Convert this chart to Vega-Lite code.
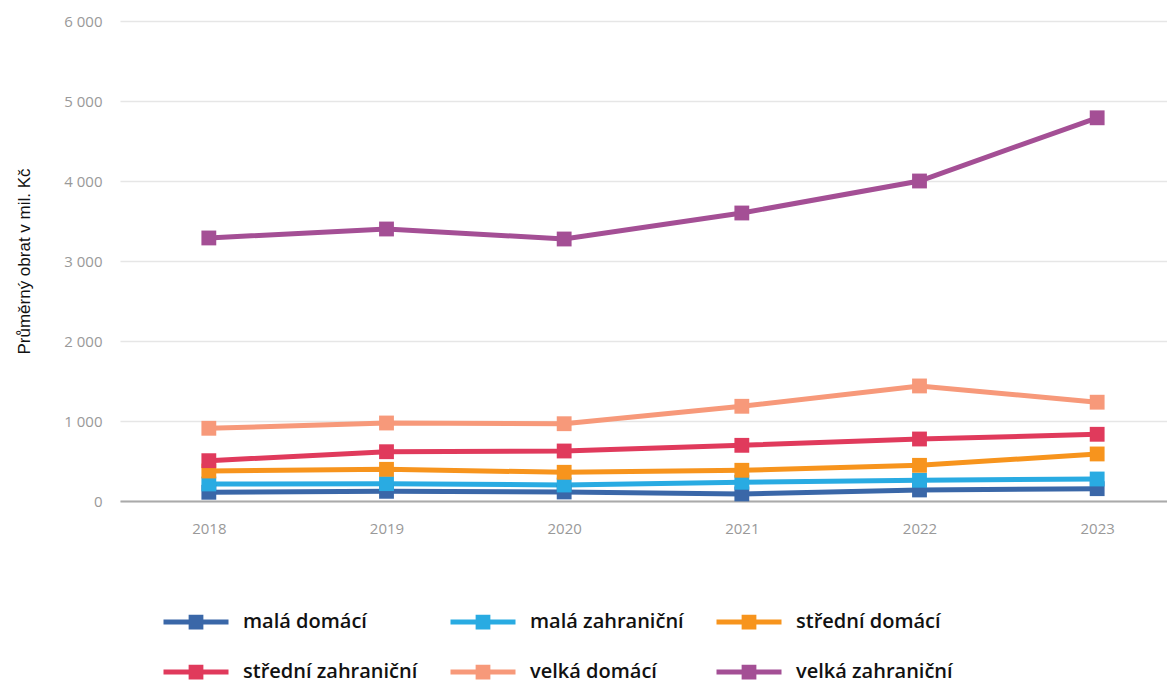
{
  "$schema": "https://vega.github.io/schema/vega-lite/v6.json",
  "width": 1066,
  "height": 480,
  "padding": {"top": 14, "left": 15, "right": 0, "bottom": 0},
  "background": "white",
  "config": {
    "view": {"stroke": null},
    "font": "Open Sans"
  },
  "data": {
    "values": [
      {"rok": "2018", "skupina": "malá domácí", "obrat": 109},
      {"rok": "2019", "skupina": "malá domácí", "obrat": 121},
      {"rok": "2020", "skupina": "malá domácí", "obrat": 113},
      {"rok": "2021", "skupina": "malá domácí", "obrat": 88},
      {"rok": "2022", "skupina": "malá domácí", "obrat": 138},
      {"rok": "2023", "skupina": "malá domácí", "obrat": 154},
      {"rok": "2018", "skupina": "malá zahraniční", "obrat": 213},
      {"rok": "2019", "skupina": "malá zahraniční", "obrat": 217},
      {"rok": "2020", "skupina": "malá zahraniční", "obrat": 200},
      {"rok": "2021", "skupina": "malá zahraniční", "obrat": 234},
      {"rok": "2022", "skupina": "malá zahraniční", "obrat": 259},
      {"rok": "2023", "skupina": "malá zahraniční", "obrat": 275},
      {"rok": "2018", "skupina": "střední domácí", "obrat": 375},
      {"rok": "2019", "skupina": "střední domácí", "obrat": 396},
      {"rok": "2020", "skupina": "střední domácí", "obrat": 359},
      {"rok": "2021", "skupina": "střední domácí", "obrat": 384},
      {"rok": "2022", "skupina": "střední domácí", "obrat": 446},
      {"rok": "2023", "skupina": "střední domácí", "obrat": 588},
      {"rok": "2018", "skupina": "střední zahraniční", "obrat": 504},
      {"rok": "2019", "skupina": "střední zahraniční", "obrat": 616},
      {"rok": "2020", "skupina": "střední zahraniční", "obrat": 625},
      {"rok": "2021", "skupina": "střední zahraniční", "obrat": 696},
      {"rok": "2022", "skupina": "střední zahraniční", "obrat": 775},
      {"rok": "2023", "skupina": "střední zahraniční", "obrat": 834},
      {"rok": "2018", "skupina": "velká domácí", "obrat": 909},
      {"rok": "2019", "skupina": "velká domácí", "obrat": 975},
      {"rok": "2020", "skupina": "velká domácí", "obrat": 966},
      {"rok": "2021", "skupina": "velká domácí", "obrat": 1184},
      {"rok": "2022", "skupina": "velká domácí", "obrat": 1438},
      {"rok": "2023", "skupina": "velká domácí", "obrat": 1235},
      {"rok": "2018", "skupina": "velká zahraniční", "obrat": 3288},
      {"rok": "2019", "skupina": "velká zahraniční", "obrat": 3400},
      {"rok": "2020", "skupina": "velká zahraniční", "obrat": 3275},
      {"rok": "2021", "skupina": "velká zahraniční", "obrat": 3600},
      {"rok": "2022", "skupina": "velká zahraniční", "obrat": 4000},
      {"rok": "2023", "skupina": "velká zahraniční", "obrat": 4790}
    ]
  },
  "encoding": {
    "x": {
      "field": "rok",
      "type": "ordinal",
      "scale": {"type": "point", "padding": 0.5},
      "axis": {
        "title": null,
        "labelAngle": 0,
        "labelColor": "#999999",
        "labelFontSize": 15,
        "labelPadding": 20,
        "ticks": false,
        "grid": false,
        "domainColor": "#aaaaaa",
        "domainWidth": 2
      }
    },
    "y": {
      "field": "obrat",
      "type": "quantitative",
      "scale": {"domain": [0, 6000]},
      "axis": {
        "title": "Průměrný obrat v mil. Kč",
        "titleFont": "Liberation Sans",
        "titleFontSize": 17,
        "titleFontWeight": "normal",
        "titleColor": "#111111",
        "titlePadding": 30,
        "values": [0, 1000, 2000, 3000, 4000, 5000, 6000],
        "labelExpr": "replace(format(datum.value, ','), ',', ' ')",
        "labelColor": "#999999",
        "labelFontSize": 15,
        "labelPadding": 18,
        "ticks": false,
        "domain": false,
        "gridColor": "#e6e6e6",
        "gridWidth": 1.5
      }
    },
    "color": {
      "field": "skupina",
      "type": "nominal",
      "scale": {
        "domain": ["malá domácí", "malá zahraniční", "střední domácí", "střední zahraniční", "velká domácí", "velká zahraniční"],
        "range": ["#3a67a8", "#29abe2", "#f7941d", "#e03a5c", "#f7997a", "#a44f95"]
      },
      "legend": {
        "title": null,
        "orient": "none",
        "legendX": 41,
        "legendY": 566,
        "direction": "horizontal",
        "columns": 3,
        "symbolType": "M-1,0H1M-0.15,-0.15H0.15V0.15H-0.15Z",
        "symbolSize": 4225,
        "symbolStrokeWidth": 5,
        "labelFont": "Open Sans",
        "labelFontSize": 20,
        "labelFontWeight": 600,
        "labelColor": "#111111",
        "labelOffset": 12,
        "labelLimit": 300,
        "rowPadding": -18,
        "columnPadding": 22
      }
    }
  },
  "mark": {
    "type": "line",
    "strokeWidth": 5,
    "point": {"shape": "square", "size": 220, "filled": true, "opacity": 1}
  }
}
